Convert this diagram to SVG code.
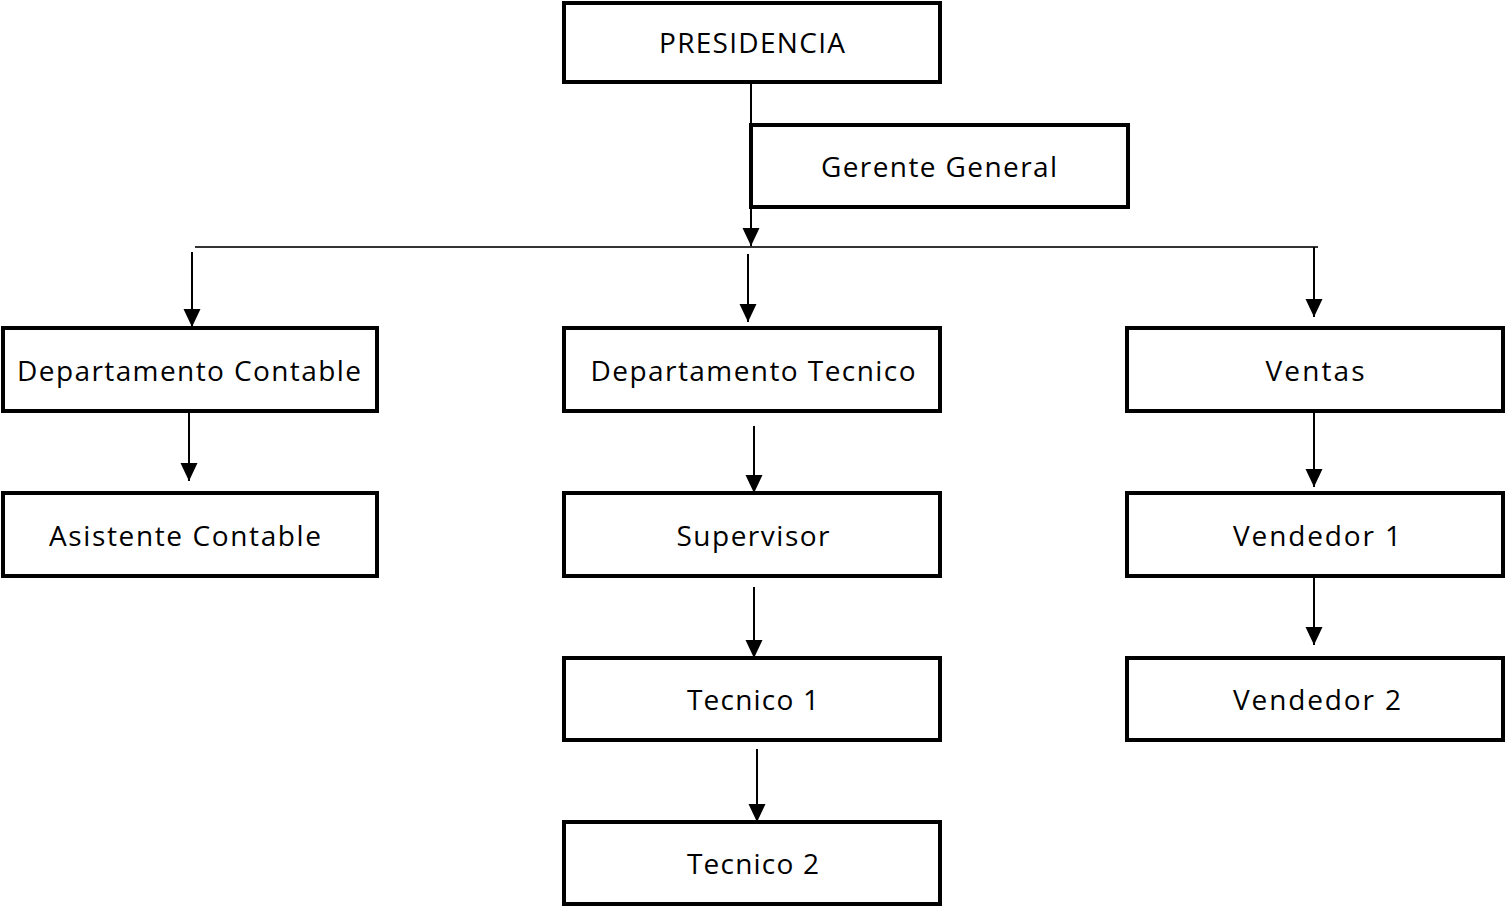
<svg xmlns="http://www.w3.org/2000/svg" width="1506" height="906" viewBox="0 0 1506 906">
<style>
.box{fill:#fff;stroke:#000;stroke-width:4}
.lbl{font-family:"Open Sans","Liberation Sans",sans-serif;font-size:28px;fill:#000;text-anchor:middle}
.ln{stroke:#000;stroke-width:2;fill:none}
</style>
<defs>
<marker id="ah" markerUnits="userSpaceOnUse" markerWidth="20" markerHeight="20" viewBox="0 0 20 20" refX="18" refY="10" orient="auto">
<path d="M0,1.5 L18,10 L0,18.5 Z" fill="#000"/>
</marker>
</defs>
<rect width="1506" height="906" fill="#fff"/>
<g id="connectors">
<line class="ln" x1="751" y1="82" x2="751" y2="246" marker-end="url(#ah)"/>
<line x1="195" y1="247" x2="1318" y2="247" stroke="#333" stroke-width="2"/>
<line class="ln" x1="192" y1="252" x2="192" y2="327" marker-end="url(#ah)"/>
<line class="ln" x1="748" y1="254" x2="748" y2="322" marker-end="url(#ah)"/>
<line class="ln" x1="1314" y1="247" x2="1314" y2="317" marker-end="url(#ah)"/>
<line class="ln" x1="189" y1="411" x2="189" y2="481" marker-end="url(#ah)"/>
<line class="ln" x1="754" y1="426" x2="754" y2="493" marker-end="url(#ah)"/>
<line class="ln" x1="754" y1="587" x2="754" y2="658" marker-end="url(#ah)"/>
<line class="ln" x1="757" y1="749" x2="757" y2="822" marker-end="url(#ah)"/>
<line class="ln" x1="1314" y1="411" x2="1314" y2="487" marker-end="url(#ah)"/>
<line class="ln" x1="1314" y1="576" x2="1314" y2="645" marker-end="url(#ah)"/>
</g>
<g id="presidencia"><rect class="box" x="564" y="3" width="376" height="79"/><text class="lbl" x="752" y="53" textLength="186">PRESIDENCIA</text></g>
<g id="gerente"><rect class="box" x="751" y="125" width="377" height="82"/><text class="lbl" x="939" y="177" textLength="236">Gerente General</text></g>
<g id="contable"><rect class="box" x="3" y="328" width="374" height="83"/><text class="lbl" x="189" y="381" textLength="344">Departamento Contable</text></g>
<g id="tecnico"><rect class="box" x="564" y="328" width="376" height="83"/><text class="lbl" x="753" y="381" textLength="325">Departamento Tecnico</text></g>
<g id="ventas"><rect class="box" x="1127" y="328" width="376" height="83"/><text class="lbl" x="1315" y="381" textLength="99">Ventas</text></g>
<g id="asistente"><rect class="box" x="3" y="493" width="374" height="83"/><text class="lbl" x="185" y="546" textLength="272">Asistente Contable</text></g>
<g id="supervisor"><rect class="box" x="564" y="493" width="376" height="83"/><text class="lbl" x="753" y="546" textLength="153">Supervisor</text></g>
<g id="vendedor1"><rect class="box" x="1127" y="493" width="376" height="83"/><text class="lbl" x="1317" y="546" textLength="168">Vendedor 1</text></g>
<g id="tecnico1"><rect class="box" x="564" y="658" width="376" height="82"/><text class="lbl" x="753" y="710" textLength="132">Tecnico 1</text></g>
<g id="vendedor2"><rect class="box" x="1127" y="658" width="376" height="82"/><text class="lbl" x="1317" y="710" textLength="168">Vendedor 2</text></g>
<g id="tecnico2"><rect class="box" x="564" y="822" width="376" height="82"/><text class="lbl" x="753" y="874" textLength="132">Tecnico 2</text></g>
</svg>
